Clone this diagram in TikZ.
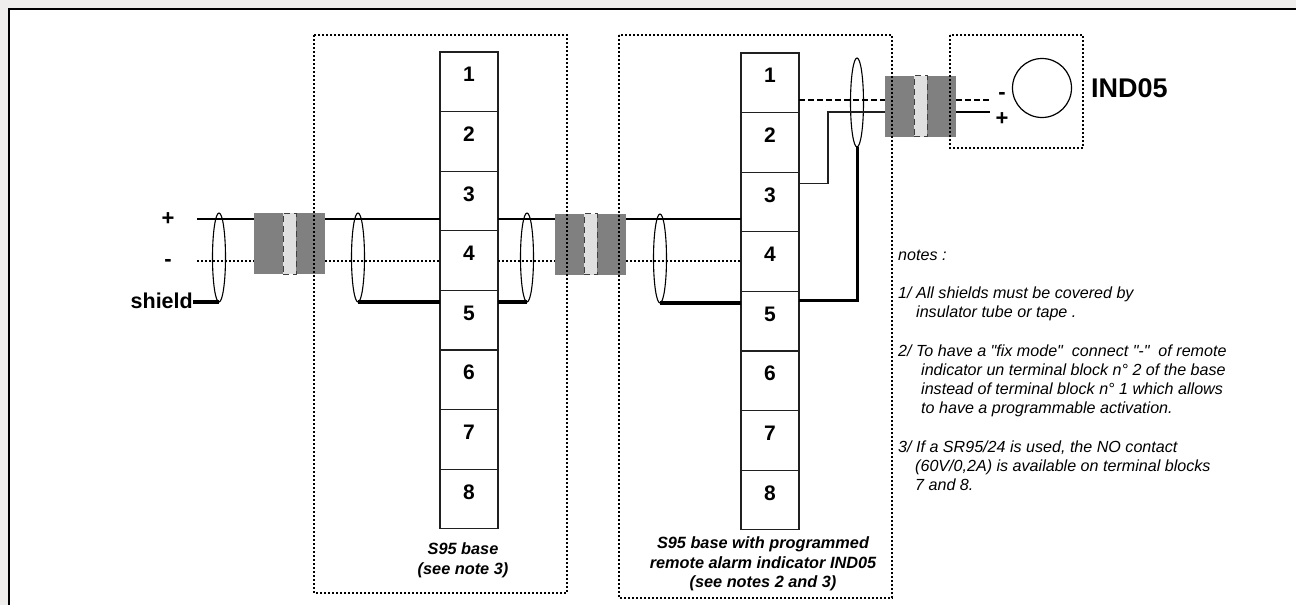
\documentclass[tikz,border=0pt]{standalone}
\usepackage{fontspec}
\setmainfont{Liberation Sans}[Ligatures=TeXOff]
\usepackage{xcolor}
\usetikzlibrary{calc,shapes.geometric}
\definecolor{strip}{HTML}{F0EDED}
\definecolor{jointgrey}{HTML}{808080}
\definecolor{bandgrey}{HTML}{E0E0E0}
\definecolor{banddash}{HTML}{404040}
\definecolor{thinblack}{HTML}{202020}
\tikzset{
  termbox/.style={draw=thinblack, line width=1.2pt, minimum width=58pt, minimum height=59.6pt, inner sep=0pt, outer sep=0pt,
    text height=15pt, text depth=15pt, font=\bfseries\fontsize{21}{24}\selectfont},
  groupbox/.style={draw=black, line width=1.8pt, dash pattern=on 2pt off 2pt},
  joint/.style={fill=jointgrey, minimum width=71pt, minimum height=61pt, inner sep=0pt, outer sep=0pt},
  band/.style={fill=bandgrey, draw=banddash, line width=0.9pt, dash pattern=on 6pt off 4pt, minimum width=13pt, minimum height=61pt, inner sep=0pt, outer sep=0pt},
  wire/.style={draw=black, line width=1.3pt},
  dotwire/.style={draw=black, line width=1.3pt, dash pattern=on 2pt off 2pt},
  dashwire/.style={draw=black, line width=1.3pt, dash pattern=on 6pt off 3pt},
  shieldwire/.style={draw=black, line width=4pt},
  tube/.style={ellipse, draw=black, line width=1.1pt, minimum width=13pt, inner sep=0pt, outer sep=0pt},
  lab/.style={font=\bfseries\fontsize{22}{24}\selectfont, inner sep=0pt},
  caption/.style={font=\bfseries\itshape\fontsize{16.3}{19.5}\selectfont, align=center, inner sep=0pt},
  note/.style={font=\itshape\fontsize{16.1}{19}\selectfont, anchor=base west, inner sep=0pt}
}
\begin{document}
\begin{tikzpicture}[x=1pt,y=-1pt]
  \useasboundingbox (0,0) rectangle (1296,605);
  \fill[strip] (0,0) rectangle (1296,605);
  \fill[white] (9,9) rectangle (1296,605);
  \draw[black, line width=2pt] (9,605) -- (9,8.5) -- (1296,8.5);

  % terminal blocks
  \foreach \n in {1,...,8} {
    \node[termbox] (a\n) at (469,{22.2+59.6*\n}) {\n};
    \node[termbox] (b\n) at (770,{23.2+59.6*\n}) {\n};
  }

  % joints
  \foreach \j/\x/\y in {jointa/289.5/243.5, jointb/590.5/244, jointc/920.5/106} {
    \node[joint] (\j) at (\x,\y) {};
    \node[band] (\j band) at (\x,\y) {};
  }

  % cable
  \coordinate (pa) at (197,219);
  \coordinate (ma) at (197,261);
  \draw[wire] (pa) -- (pa -| jointa.west);
  \draw[wire] (pa -| jointa.east) -- (pa -| a3.west);
  \draw[wire] (pa -| a3.east) -- (pa -| jointb.west);
  \draw[wire] (pa -| jointb.east) -- (pa -| b3.west);
  \draw[dotwire] (ma) -- (ma -| jointa.west);
  \draw[dotwire] (ma -| jointa.east) -- (ma -| a4.west);
  \draw[dotwire] (ma -| a4.east) -- (ma -| jointb.west);
  \draw[dotwire] (ma -| jointb.east) -- (ma -| b4.west);

  % shields
  \node[tube, minimum height=89pt] (tubea) at (219,257.5) {};
  \node[tube, minimum height=89pt] (tubeb) at (358,257.5) {};
  \node[tube, minimum height=89pt] (tubec) at (527,257.5) {};
  \node[tube, minimum height=89pt] (tubed) at (660,258.5) {};
  \node[tube, minimum height=89pt] (tubee) at (857,102.5) {};
  \node[lab, font=\bfseries\fontsize{21.5}{24}\selectfont, anchor=east] (shield) at (193,300.5) {shield};
  \draw[shieldwire] (shield.east |- tubea.south) -- (tubea.south);
  \draw[shieldwire] (tubeb.south) -- (tubeb.south -| a5.west);
  \draw[shieldwire] (tubec.south -| a5.east) -- (tubec.south);
  \draw[shieldwire] (tubed.south) -- (tubed.south -| b5.west);
  \draw[draw=black, line width=3pt] ($(b5.north east)+(0,9)$) -| (tubee.south);

  % indicator
  \coordinate (mc) at (991,100);
  \coordinate (pc) at (990,112);
  \draw[dashwire] (mc -| b1.east) -- (mc -| jointc.west);
  \draw[dashwire] (mc -| jointc.east) -- (mc);
  \draw[wire] (pc -| jointc.east) -- (pc);
  \draw[thinblack, line width=1.1pt] (pc -| jointc.west) -- (828,112) |- ($(b3.north east)+(0,11)$);
  \node[circle, draw=black, line width=1.2pt, minimum size=59pt, inner sep=0pt] (lamp) at (1042,88) {};
  \node[lab] (minusc) at (1002,96) {-};
  \node[lab] (plusc) at (1002,119) {+};
  \node[lab, font=\bfseries\fontsize{27}{30}\selectfont, anchor=west] (ind) at (1091,88) {IND05};
  \node[lab] (plusa) at (168,219) {+};
  \node[lab] (minusa) at (168,263) {-};

  % boxes
  \draw[groupbox] (314,35) rectangle (567,593);
  \draw[groupbox] (619,35) rectangle (892,598);
  \draw[groupbox] (950,35) rectangle (1083,148);

  \node[caption] (capa) at (463,560.5) {S95 base\\(see note 3)};
  \node[caption] (capb) at (763,564) {S95 base with programmed\\remote alarm indicator IND05\\(see notes 2 and 3)};

  % notes
  \node[note] at (898,260) {notes :};
  \node[note] at (898,298) {1/ All shields must be covered by};
  \node[note] at (916,317) {insulator tube or tape .};
  \node[note] at (898,356) {2/ To have a "fix mode"\ \ connect "-"\ \ of remote};
  \node[note] at (921,375) {indicator un terminal block n° 2 of the base};
  \node[note] at (921,394) {instead of terminal block n° 1 which allows};
  \node[note] at (921,413) {to have a programmable activation.};
  \node[note] at (898,452) {3/ If a SR95/24 is used, the NO contact};
  \node[note] at (915,471) {(60V/0,2A) is available on terminal blocks};
  \node[note] at (915,490) {7 and 8.};
\end{tikzpicture}
\end{document}
